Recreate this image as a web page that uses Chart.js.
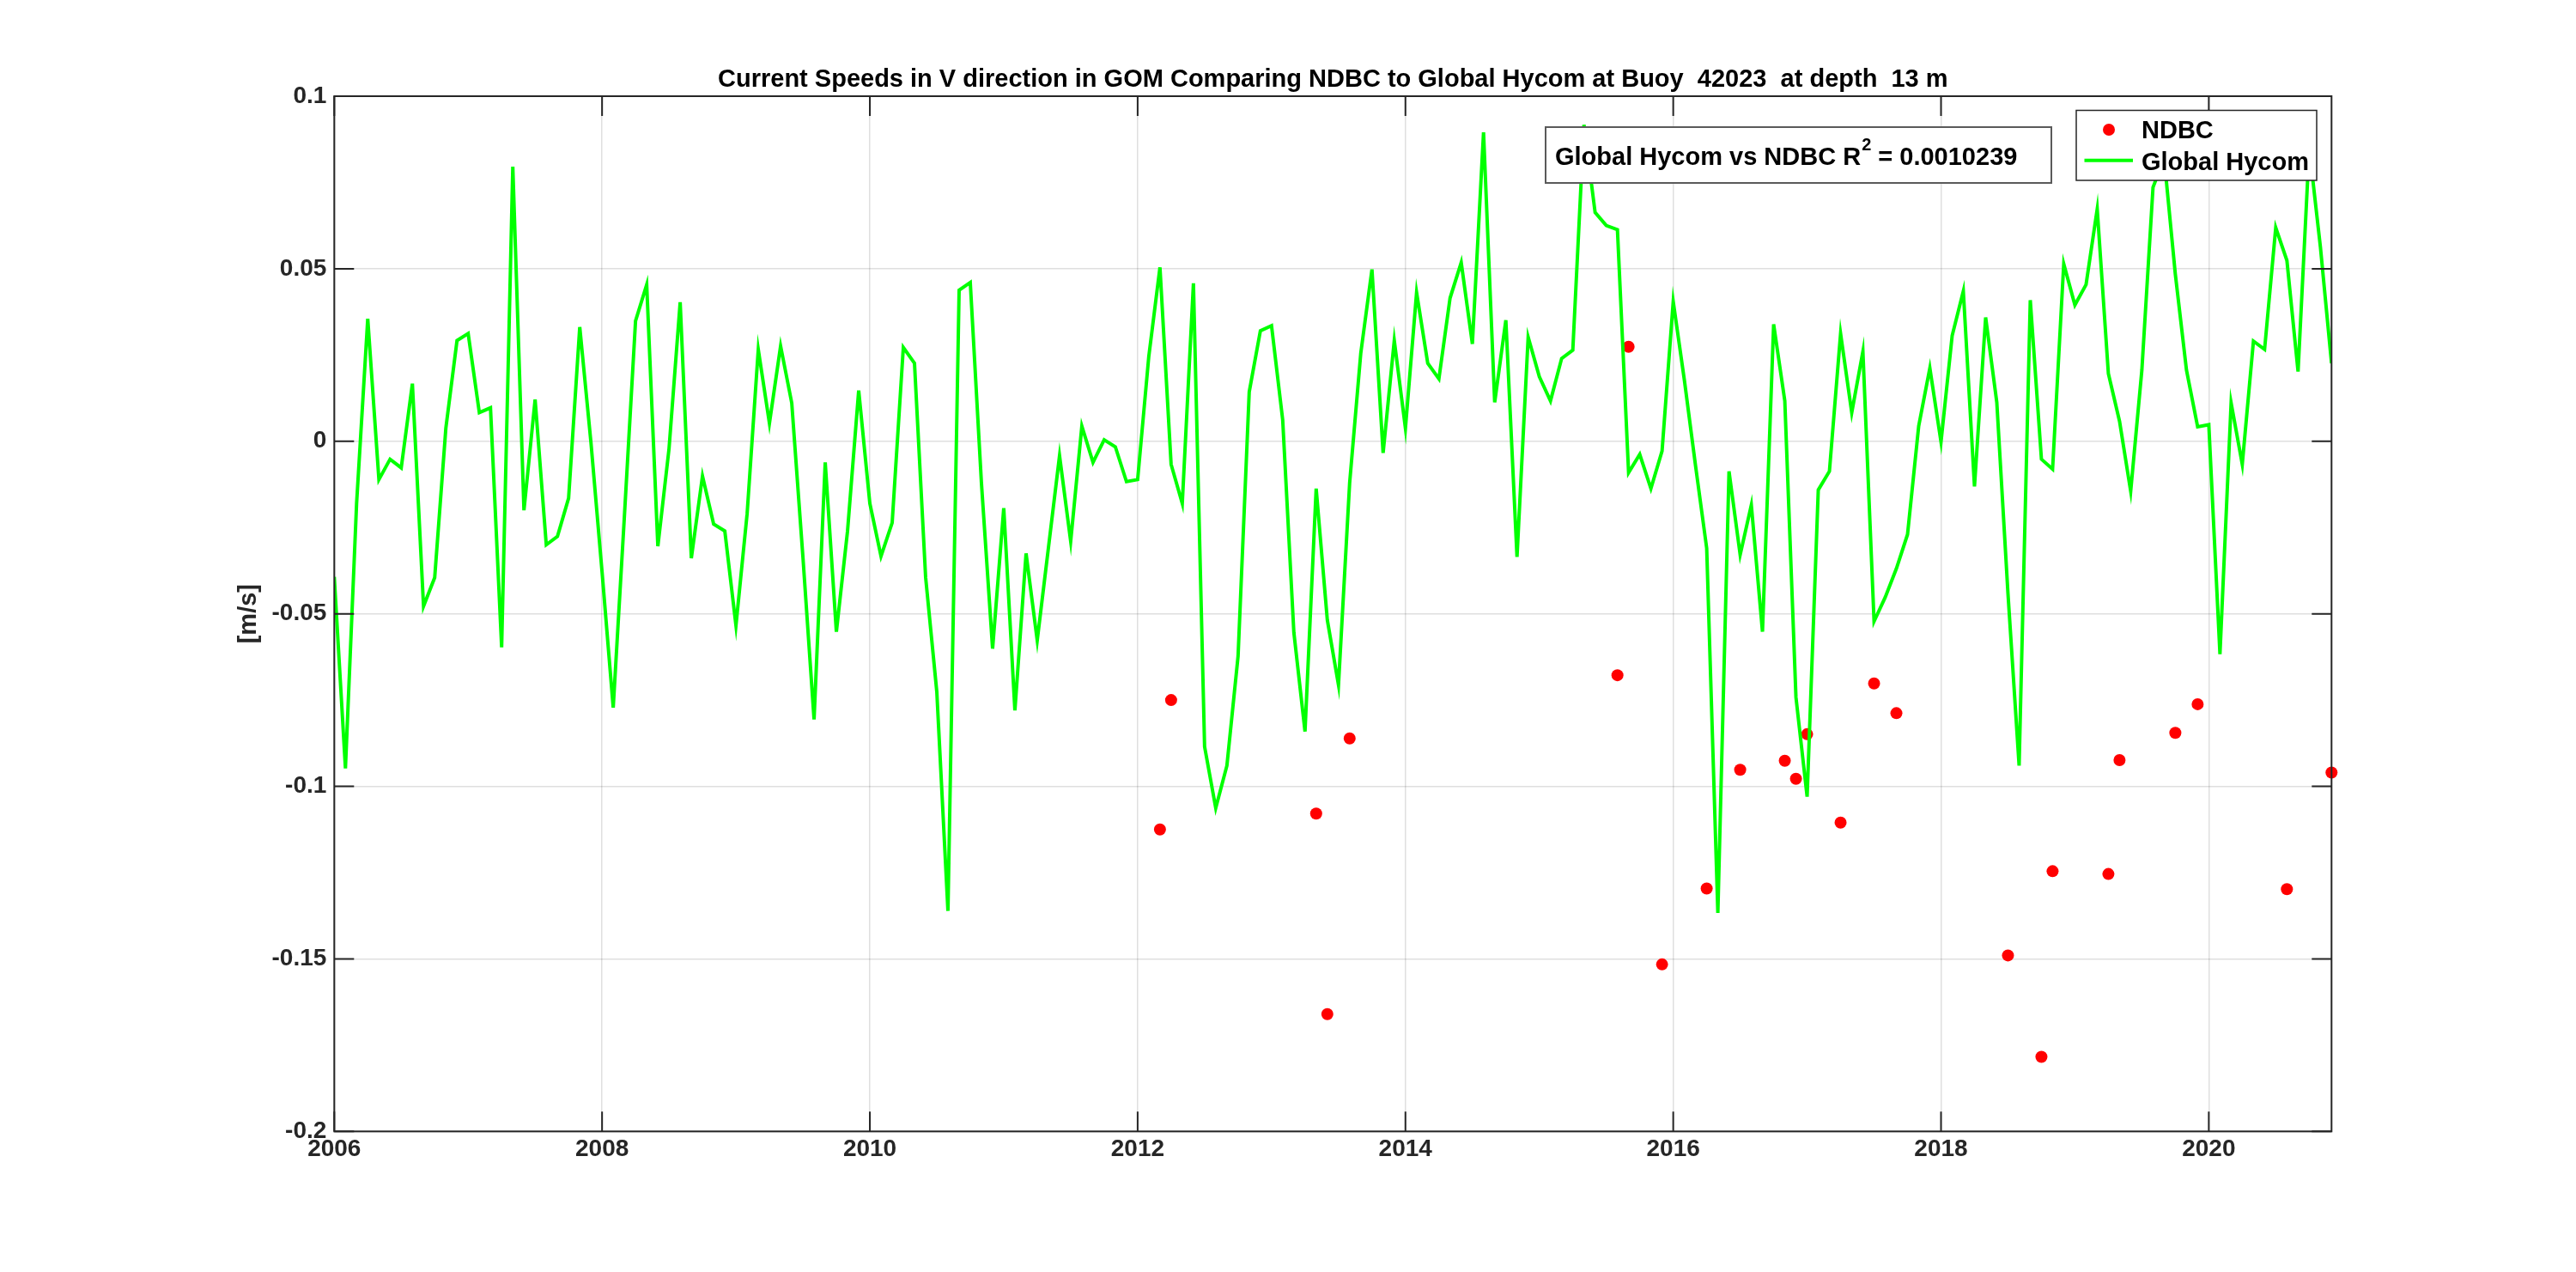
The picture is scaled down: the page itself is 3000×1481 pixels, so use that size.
<!DOCTYPE html>
<html><head><meta charset="utf-8">
<script src="https://cdn.jsdelivr.net/npm/chart.js@4.4.1/dist/chart.umd.min.js"></script>
<style>html,body{margin:0;padding:0;background:#fff;overflow:hidden}canvas{display:block}</style>
</head><body>
<canvas id="c" width="3000" height="1481" style="width:3000px;height:1481px"></canvas>
<script>
const startYear = 2006;
const hycom = [
 -0.0393,-0.0948,-0.0180, 0.0355,-0.0111,-0.0052,-0.0077, 0.0167,-0.0478,-0.0395, 0.0038, 0.0292,
  0.0312, 0.0083, 0.0097,-0.0597, 0.0796,-0.0200, 0.0121,-0.0300,-0.0276,-0.0165, 0.0331,-0.0002,
 -0.0379,-0.0772,-0.0218, 0.0349, 0.0454,-0.0304,-0.0022, 0.0403,-0.0339,-0.0101,-0.0240,-0.0260,
 -0.0534,-0.0210, 0.0266, 0.0052, 0.0276, 0.0111,-0.0335,-0.0806,-0.0061,-0.0552,-0.0260, 0.0147,
 -0.0180,-0.0333,-0.0236, 0.0272, 0.0226,-0.0395,-0.0726,-0.1361, 0.0438, 0.0460,-0.0121,-0.0601,
 -0.0194,-0.0780,-0.0325,-0.0577,-0.0310,-0.0042,-0.0290, 0.0044,-0.0061, 0.0004,-0.0016,-0.0117,
 -0.0111, 0.0246, 0.0504,-0.0067,-0.0180, 0.0458,-0.0885,-0.1063,-0.0940,-0.0623, 0.0143, 0.0320,
  0.0335, 0.0062,-0.0554,-0.0841,-0.0137,-0.0518,-0.0706,-0.0121, 0.0256, 0.0498,-0.0034, 0.0292,
  0.0038, 0.0431, 0.0226, 0.0181, 0.0415, 0.0518, 0.0282, 0.0895, 0.0113, 0.0351,-0.0335, 0.0302,
  0.0187, 0.0117, 0.0240, 0.0264, 0.0917, 0.0663, 0.0625, 0.0613,-0.0091,-0.0038,-0.0137,-0.0028,
  0.0405, 0.0177,-0.0071,-0.0310,-0.1367,-0.0087,-0.0329,-0.0185,-0.0552, 0.0339, 0.0117,-0.0742,
 -0.1030,-0.0141,-0.0087, 0.0312, 0.0083, 0.0260,-0.0522,-0.0452,-0.0369,-0.0270, 0.0044, 0.0212,
 -0.0002, 0.0306, 0.0435,-0.0131, 0.0359, 0.0113,-0.0441,-0.0940, 0.0409,-0.0052,-0.0081, 0.0514,
  0.0395, 0.0454, 0.0673, 0.0196, 0.0058,-0.0145, 0.0206, 0.0736, 0.0820, 0.0484, 0.0206, 0.0042,
  0.0048,-0.0617, 0.0111,-0.0067, 0.0290, 0.0266, 0.0619, 0.0524, 0.0202, 0.0850, 0.0564, 0.0226
];
const ndbcMonth = [74, 75, 88, 89, 91, 115, 116, 119, 123, 126, 130, 131, 132, 135, 138, 140, 150, 153, 154, 159, 160, 165, 167, 175, 179];
const ndbc = [-0.1125,-0.0750,-0.1079,-0.1660,-0.0861,-0.0678, 0.0274,-0.1516,-0.1296,-0.0952,-0.0926,-0.0978,-0.0849,
              -0.1105,-0.0702,-0.0788,-0.1490,-0.1784,-0.1246,-0.1254,-0.0924,-0.0845,-0.0762,-0.1298,-0.0960];
const xTicks = [2006, 2008, 2010, 2012, 2014, 2016, 2018, 2020];
const xTickLabels = ['2006','2008','2010','2012','2014','2016','2018','2020'];
const yTicks = [-0.2, -0.15, -0.1, -0.05, 0, 0.05, 0.1];
const yTickLabels = ['-0.2','-0.15','-0.1','-0.05','0','0.05','0.1'];
const titleText = 'Current Speeds in V direction in GOM Comparing NDBC to Global Hycom at Buoy  42023  at depth  13 m';
const yLabel = '[m/s]';
const r2Parts = ['Global Hycom vs NDBC R', '2', ' = 0.0010239'];
const legendLabels = ['NDBC', 'Global Hycom'];

const monthX = hycom.map((_, i) => startYear + i / 12);
const FONT = "'Liberation Sans', Arial, Helvetica, sans-serif";
const GREEN = '#00ff00', RED = '#ff0000', AX = '#262626';

const decor = {
  id: 'decor',
  beforeDraw(chart) {
    const c = chart.ctx; c.save(); c.fillStyle = '#fff'; c.fillRect(0, 0, chart.width, chart.height); c.restore();
  },
  afterDatasetsDraw(chart) {
    const { ctx, chartArea: a, scales: { x, y } } = chart;
    ctx.save();
    ctx.strokeStyle = AX; ctx.lineWidth = 2;
    ctx.strokeRect(a.left, a.top, a.right - a.left, a.bottom - a.top);
    const tl = 23;
    ctx.beginPath();
    xTicks.forEach(v => { const px = x.getPixelForValue(v);
      ctx.moveTo(px, a.bottom); ctx.lineTo(px, a.bottom - tl);
      ctx.moveTo(px, a.top); ctx.lineTo(px, a.top + tl); });
    yTicks.forEach(v => { const py = y.getPixelForValue(v);
      ctx.moveTo(a.left, py); ctx.lineTo(a.left + tl, py);
      ctx.moveTo(a.right, py); ctx.lineTo(a.right - tl, py); });
    ctx.stroke();
    ctx.restore();
  },
  afterDraw(chart) {
    const { ctx, chartArea: a } = chart;
    ctx.save();
    // title
    ctx.fillStyle = '#000';
    ctx.font = `bold 29px ${FONT}`;
    ctx.textAlign = 'center'; ctx.textBaseline = 'alphabetic';
    ctx.fillText(titleText, (a.left + a.right) / 2, 101);
    // y label
    ctx.save();
    ctx.translate(290, (a.top + a.bottom) / 2);
    ctx.rotate(-Math.PI / 2);
    ctx.fillStyle = AX;
    ctx.font = `bold 29px ${FONT}`;
    ctx.textAlign = 'center'; ctx.textBaseline = 'middle';
    ctx.fillText(yLabel, 0, 0);
    ctx.restore();
    // R^2 box
    ctx.fillStyle = '#fff';
    ctx.fillRect(1800, 148, 589, 65);
    ctx.strokeStyle = '#5a5a5a'; ctx.lineWidth = 2;
    ctx.strokeRect(1800, 148, 589, 65);
    ctx.fillStyle = '#000';
    ctx.textAlign = 'left'; ctx.textBaseline = 'alphabetic';
    let tx = 1811;
    ctx.font = `bold 29px ${FONT}`;
    ctx.fillText(r2Parts[0], tx, 191.5); tx += ctx.measureText(r2Parts[0]).width + 1;
    ctx.font = `bold 20px ${FONT}`;
    ctx.fillText(r2Parts[1], tx, 175); tx += ctx.measureText(r2Parts[1]).width;
    ctx.font = `bold 29px ${FONT}`;
    ctx.fillText(r2Parts[2], tx, 191.5);
    // legend
    ctx.fillStyle = '#fff';
    ctx.fillRect(2418, 128.5, 280, 81.5);
    ctx.strokeStyle = AX; ctx.lineWidth = 1.5;
    ctx.strokeRect(2418, 128.5, 280, 81.5);
    ctx.fillStyle = RED;
    ctx.beginPath(); ctx.arc(2456, 151, 7, 0, Math.PI * 2); ctx.fill();
    ctx.strokeStyle = GREEN; ctx.lineWidth = 4;
    ctx.beginPath(); ctx.moveTo(2427.5, 186.7); ctx.lineTo(2484, 186.7); ctx.stroke();
    ctx.fillStyle = '#000';
    ctx.font = `bold 29px ${FONT}`;
    ctx.fillText(legendLabels[0], 2494, 161);
    ctx.fillText(legendLabels[1], 2494, 198);
    ctx.restore();
  }
};

new Chart(document.getElementById('c'), {
  data: {
    datasets: [
      { type: 'line', label: legendLabels[1], data: hycom.map((v, i) => ({ x: monthX[i], y: v })),
        borderColor: GREEN, backgroundColor: GREEN, borderWidth: 4, pointRadius: 0, tension: 0, fill: false, order: 0 },
      { type: 'scatter', label: legendLabels[0], data: ndbc.map((v, k) => ({ x: startYear + ndbcMonth[k] / 12, y: v })),
        backgroundColor: RED, borderColor: RED, borderWidth: 0, pointRadius: 7, clip: false, order: 1 }
    ]
  },
  options: {
    responsive: false, devicePixelRatio: 1, animation: false,
    layout: { padding: { left: 0, right: 3000 - 2715.3, top: 112, bottom: 0 } },
    plugins: { legend: { display: false }, title: { display: false }, tooltip: { enabled: false } },
    events: [],
    scales: {
      x: {
        type: 'linear', min: monthX[0], max: monthX[monthX.length - 1],
        afterBuildTicks: s => { s.ticks = xTicks.map(v => ({ value: v })); },
        afterFit: s => { s.height = 1481 - 1317.3; },
        ticks: { autoSkip: false, maxRotation: 0, padding: 4, color: AX,
          font: { family: FONT, size: 28, weight: 'bold' },
          callback: (v, i) => xTickLabels[i] },
        grid: { color: 'rgba(38,38,38,0.15)', lineWidth: 1.5, drawTicks: false },
        border: { display: false }
      },
      y: {
        type: 'linear', min: -0.2, max: 0.1,
        afterBuildTicks: s => { s.ticks = yTicks.map(v => ({ value: v })); },
        afterFit: s => { s.width = 389.3; },
        ticks: { autoSkip: false, padding: 9, color: AX,
          font: { family: FONT, size: 28, weight: 'bold' },
          callback: (v, i) => yTickLabels[i] },
        grid: { color: 'rgba(38,38,38,0.15)', lineWidth: 1.5, drawTicks: false },
        border: { display: false }
      }
    }
  },
  plugins: [decor]
});
</script>
</body></html>
